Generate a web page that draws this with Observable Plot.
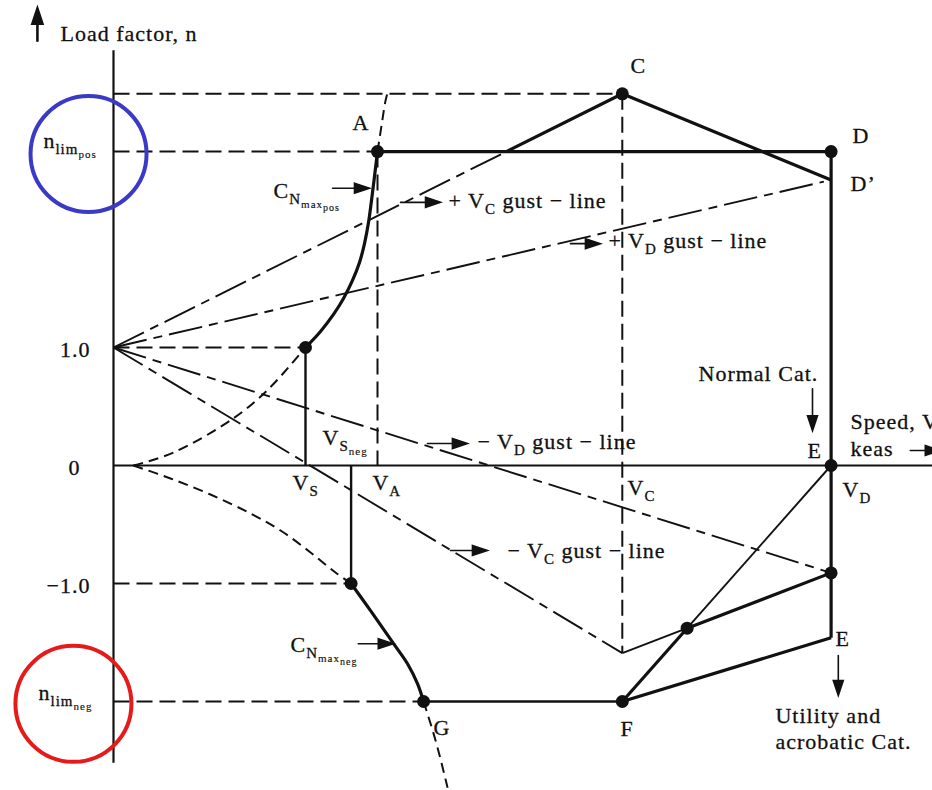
<!DOCTYPE html>
<html>
<head>
<meta charset="utf-8">
<script src="https://cdn.jsdelivr.net/npm/d3@7"></script>
<script src="https://cdn.jsdelivr.net/npm/@observablehq/plot@0.6"></script>
<style>
  body { margin: 0; background: #fff; }
</style>
</head>
<body>
<div id="chart"></div>
<script>
// ---- V–n diagram values -------------------------------------------------
// Characteristic speeds (keas)
const V_S = 80, V_Sneg = 99, V_A = 110, V_C = 212, V_D = 299;
// Limit and gust load factors
const nLimPos = 2.66, nLimNeg = -2.0;
const nGustVCpos = 3.15, nGustVDpos = 2.42;   // at V_C and V_D
const nGustVCneg = -1.59, nGustVDneg = -0.91; // at V_C and V_D
const nE_util = -1.46;                        // point E, utility / acrobatic

// Positive stall boundary (C_N max pos): speed and load factor
const stallPosV = [8.3, 25, 50, 64.2, 80, 86.25, 91.67, 95.83, 99.58, 102.5, 104.58, 106.25, 107.5, 108.75, 110, 111.67, 113.33, 114.6];
const stallPosN = [0, 0.11, 0.40, 0.64, 1.0, 1.136, 1.28, 1.415, 1.568, 1.72, 1.881, 2.059, 2.246, 2.449, 2.66, 2.88, 3.09, 3.19];
// Negative stall boundary (C_N max neg)
const stallNegV = [8.3, 23.75, 40.4, 57.1, 69.6, 82.1, 92.5, 99, 107.1, 116.7, 122.5, 126.7, 129.2, 134.2, 139.2];
const stallNegN = [0, -0.11, -0.246, -0.407, -0.551, -0.737, -0.907, -1.0, -1.23, -1.51, -1.68, -1.85, -2.0, -2.33, -2.73];

// Y tick values and labels
const yTicks = [1, -1];
const yTickLabels = ["1.0", "\u22121.0"];

// ---- derived points ----------------------------------------------------
const P = (v, n) => ({v, n});
const posPts = stallPosV.map((v, i) => P(v, stallPosN[i]));
const negPts = stallNegV.map((v, i) => P(v, stallNegN[i]));
const iVS = stallPosV.indexOf(V_S), iA = stallPosV.indexOf(V_A);
const iVSneg = stallNegV.indexOf(V_Sneg), iG = stallNegN.indexOf(nLimNeg);
const V_G = stallNegV[iG];
// where the +V_C gust line meets the positive limit
const vCross = V_C * (nLimPos - 1) / (nGustVCpos - 1);
// intersection of F→E(normal) with the lower gust envelope
const t = (nGustVCneg - nLimNeg) / ((0 - nLimNeg) - (nGustVDneg - nGustVCneg));
const X = P(V_C + t * (V_D - V_C), nLimNeg + t * (0 - nLimNeg));

// ---- styles --------------------------------------------------------------
const ink = "#111";
const thick = 3.2, medium = 2.4, thin = 1.9;
const dash = "16,7", curveDash = "10,6", gustDash = "34,7,9,7";
const serif = "Liberation Serif, Times New Roman, serif";

const line = (pts, o) => Plot.line(pts, {x: "v", y: "n", stroke: ink, strokeLinecap: "butt", ...o});

// ---- annotations ---------------------------------------------------------
const labels = [
  {v: -22.1, n: 3.60, t: "Load factor, n"},
  {v: 215.4, n: 3.33, t: "C"},
  {v: 307.9, n: 2.73, t: "D"},
  {v: 307.1, n: 2.33, t: "D\u2019"},
  {v: 99.6, n: 2.84, t: "A"},
  {v: 66.7, n: 2.27, t: "C_{N_{max_{pos}}}"},
  {v: 139.6, n: 2.18, t: "+ V_{C} gust \u2212 line"},
  {v: 206.25, n: 1.84, t: "+ V_{D} gust \u2212 line"},
  {v: 87.1, n: 0.17, t: "V_{S_{neg}}"},
  {v: 74.6, n: -0.21, t: "V_{S}"},
  {v: 107.9, n: -0.21, t: "V_{A}"},
  {v: 214.2, n: -0.25, t: "V_{C}"},
  {v: 151.7, n: 0.144, t: "\u2212 V_{D} gust \u2212 line"},
  {v: 164.2, n: -0.78, t: "\u2212 V_{C} gust \u2212 line"},
  {v: 243.75, n: 0.72, t: "Normal Cat."},
  {v: 289.2, n: 0.06, t: "E"},
  {v: 307.1, n: 0.31, t: "Speed, V"},
  {v: 307.1, n: 0.08, t: "keas"},
  {v: 303.75, n: -0.27, t: "V_{D}"},
  {v: 73.75, n: -1.58, t: "C_{N_{max_{neg}}}"},
  {v: 133.3, n: -2.28, t: "G"},
  {v: 211.25, n: -2.29, t: "F"},
  {v: 300.8, n: -1.53, t: "E"},
  {v: 275.8, n: -2.18, t: "Utility and"},
  {v: 275.8, n: -2.40, t: "acrobatic Cat."},
  {v: -29.2, n: 2.69, t: "n_{lim_{pos}}"},
  {v: -31.25, n: -1.99, t: "n_{lim_{neg}}"}
];

// pointer arrows: tail position, length (px), direction (deg, 0 = up)
const arrows = [
  {v: -31.7, n: 3.60, len: 32, dir: 0, w: 2.6},
  {v: 91.25, n: 2.35, len: 37, dir: 90, w: 1.6},
  {v: 119.6, n: 2.23, len: 40, dir: 90, w: 1.6},
  {v: 190.4, n: 1.88, len: 30, dir: 90, w: 1.6},
  {v: 130.8, n: 0.186, len: 40, dir: 90, w: 1.6},
  {v: 140.4, n: -0.72, len: 37, dir: 90, w: 1.6},
  {v: 291.25, n: 0.65, len: 42, dir: 180, w: 1.6},
  {v: 102, n: -1.51, len: 35, dir: 90, w: 1.6},
  {v: 302, n: -1.61, len: 40, dir: 180, w: 1.6},
  {v: 332, n: 0.127, len: 30, dir: 90, w: 1.6}
];

// highlight rings around the limit-load labels
const rings = [
  {v: -10.4, n: 2.64, c: "#3a3ac6"},
  {v: -16.7, n: -2.02, c: "#e51b1b"}
];

// shaft plus a filled triangular head
const arrowShape = {
  draw(context, l) {
    const hl = 15, hw = 5;
    context.moveTo(0, 0);
    context.lineTo(0, hl - l);
    context.moveTo(-hw, hl - l);
    context.lineTo(0, -l);
    context.lineTo(hw, hl - l);
    context.closePath();
  }
};

const svg = Plot.plot({
  width: 932,
  height: 790,
  marginTop: 0, marginRight: 0, marginBottom: 0, marginLeft: 0,
  x: {domain: [-113 / 2.4, 819 / 2.4], range: [0, 932], axis: null},
  y: {domain: [-(790 - 465) / 118, 465 / 118], range: [790, 0], axis: null},
  style: {fontFamily: serif, letterSpacing: "1px", background: "white", color: ink},
  marks: [
    // axes
    line([P(0, -2.52), P(0, 3.52)], {strokeWidth: 2.2}),
    line([P(0, 0), P(341.25, 0)], {strokeWidth: 2.2}),

    // reference dashed lines
    line([P(0, 1), P(V_S, 1)], {strokeWidth: 2, strokeDasharray: dash}),
    line([P(0, -1), P(V_Sneg, -1)], {strokeWidth: 2, strokeDasharray: dash}),
    line([P(0, nLimPos), P(V_A, nLimPos)], {strokeWidth: 2, strokeDasharray: dash}),
    line([P(0, nLimNeg), P(V_G, nLimNeg)], {strokeWidth: 2, strokeDasharray: dash}),
    line([P(0, nGustVCpos), P(V_C, nGustVCpos)], {strokeWidth: 2, strokeDasharray: dash}),
    line([P(V_A, nLimPos), P(V_A, 0)], {strokeWidth: 2, strokeDasharray: dash}),
    line([P(V_C, nGustVCpos), P(V_C, nGustVCneg)], {strokeWidth: 2, strokeDasharray: dash}),

    // gust lines
    line([P(0, 1), P(vCross, nLimPos)], {strokeWidth: thin, strokeDasharray: gustDash}),
    line([P(0, 1), P(V_D - 3, 1 + (nGustVDpos - 1) * (V_D - 3) / V_D)], {strokeWidth: thin, strokeDasharray: gustDash}),
    line([P(0, 1), P(V_D, nGustVDneg)], {strokeWidth: thin, strokeDasharray: gustDash}),
    line([P(0, 1), P(V_C, nGustVCneg)], {strokeWidth: thin, strokeDasharray: gustDash}),

    // stall boundaries
    line(posPts.slice(0, iVS + 1), {curve: "catmull-rom", strokeWidth: 2, strokeDasharray: curveDash}),
    line(posPts.slice(iVS, iA + 1), {curve: "catmull-rom", strokeWidth: thick}),
    line(posPts.slice(iA), {curve: "catmull-rom", strokeWidth: 2, strokeDasharray: curveDash}),
    line(negPts.slice(0, iVSneg + 1), {curve: "catmull-rom", strokeWidth: 2, strokeDasharray: curveDash}),
    line(negPts.slice(iVSneg, iG + 1), {curve: "catmull-rom", strokeWidth: thick}),
    line(negPts.slice(iG), {curve: "catmull-rom", strokeWidth: 2, strokeDasharray: curveDash}),

    // flight envelope
    line([P(V_S, 0), P(V_S, 1)], {strokeWidth: medium}),
    line([P(V_Sneg, 0), P(V_Sneg, -1)], {strokeWidth: medium}),
    line([P(V_A, nLimPos), P(V_D, nLimPos)], {strokeWidth: thick}),
    line([P(vCross, nLimPos), P(V_C, nGustVCpos), P(V_D, nGustVDpos)], {strokeWidth: thick}),
    line([P(V_D, nLimPos), P(V_D, nE_util)], {strokeWidth: thick}),
    line([P(V_G, nLimNeg), P(V_C, nLimNeg)], {strokeWidth: medium}),
    line([P(V_C, nLimNeg), P(V_D, nE_util)], {strokeWidth: thick}),
    line([P(V_C, nLimNeg), X], {strokeWidth: thick}),
    line([X, P(V_D, 0)], {strokeWidth: thin}),
    line([P(V_C, nGustVCneg), X], {strokeWidth: thin}),
    line([X, P(V_D, nGustVDneg)], {strokeWidth: thick}),

    // corner points
    Plot.dot([P(V_A, nLimPos), P(V_C, nGustVCpos), P(V_D, nLimPos), P(V_S, 1), P(V_D, 0),
              P(V_Sneg, -1), P(V_G, nLimNeg), P(V_C, nLimNeg), X, P(V_D, nGustVDneg)],
             {x: "v", y: "n", r: 6.5, fill: ink, stroke: "none"}),

    // tick labels
    Plot.text(yTicks, {x: -9.6, y: d => d, text: (d, i) => yTickLabels[i], textAnchor: "end", lineAnchor: "middle", dy: 2, fontSize: 22, fill: ink, stroke: ink, strokeWidth: 0.3}),
    Plot.text([0], {x: -13.75, y: d => d, text: () => "0", textAnchor: "end", lineAnchor: "middle", dy: 2, fontSize: 22, fill: ink, stroke: ink, strokeWidth: 0.3}),

    // labels
    Plot.text(labels, {x: "v", y: "n", text: "t", textAnchor: "start", lineAnchor: "bottom", fontSize: 22, fill: ink, stroke: ink, strokeWidth: 0.3}),

    // pointer arrows
    ...arrows.map(a => Plot.vector([a], {x: "v", y: "n", length: a.len, rotate: a.dir, anchor: "start",
      shape: arrowShape, fill: ink, stroke: ink, strokeWidth: a.w, strokeLinejoin: "miter"})),

    // highlight rings
    ...rings.map(r => Plot.dot([r], {x: "v", y: "n", r: 58, fill: "none", stroke: r.c, strokeWidth: 4}))
  ]
});

// subscripts: "V_{C}" notation → nested tspans
const subSizes = [22, 15, 11, 10];
const subShift = [0, 6, 10, 13];
function parseRuns(s) {
  const runs = [];
  let level = 0, buf = "";
  for (let i = 0; i < s.length; i++) {
    const ch = s[i];
    if (ch === "_" && s[i + 1] === "{") { if (buf) runs.push({t: buf, level}); buf = ""; level++; i++; }
    else if (ch === "}") { if (buf) runs.push({t: buf, level}); buf = ""; level--; }
    else buf += ch;
  }
  if (buf) runs.push({t: buf, level});
  return runs;
}
svg.querySelectorAll("text").forEach(el => {
  const s = el.textContent;
  if (!s.includes("_{")) return;
  el.textContent = "";
  let prev = 0;
  for (const {t, level} of parseRuns(s)) {
    const ts = document.createElementNS("http://www.w3.org/2000/svg", "tspan");
    ts.setAttribute("dy", subShift[level] - subShift[prev]);
    ts.setAttribute("font-size", subSizes[level]);
    if (level > 1) ts.setAttribute("stroke-width", 0.15);
    ts.textContent = t;
    el.appendChild(ts);
    prev = level;
  }
});

document.getElementById("chart").appendChild(svg);
</script>
</body>
</html>
